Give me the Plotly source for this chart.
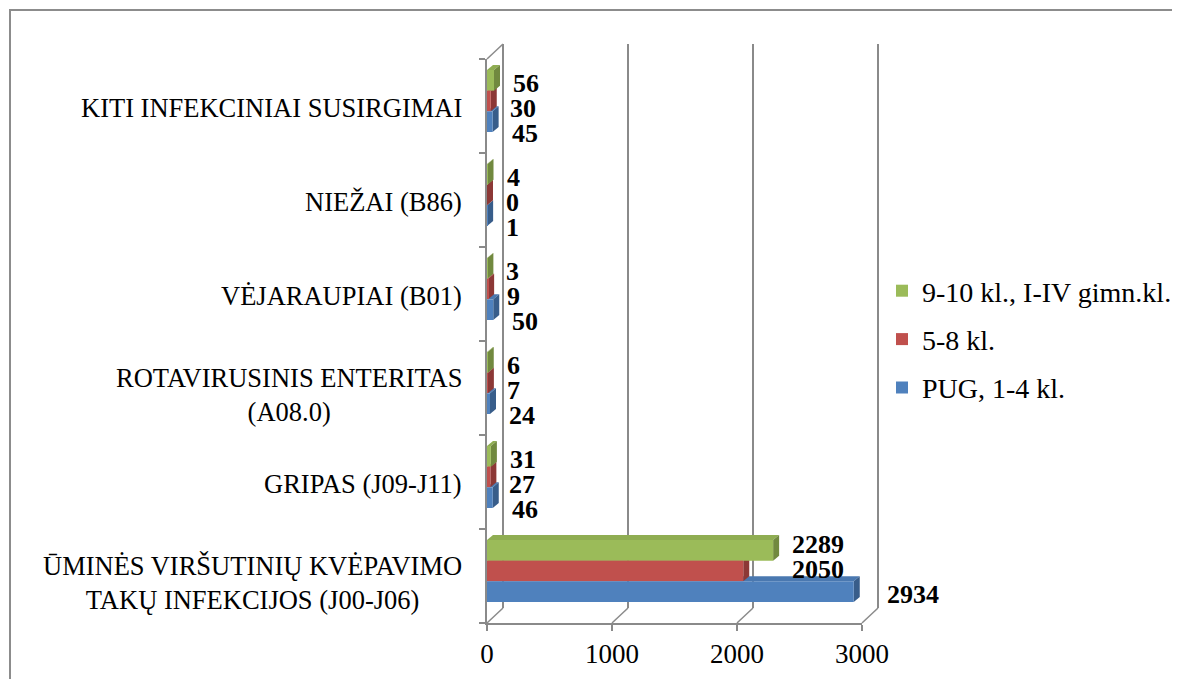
import plotly.graph_objects as go

# ---------------- data ----------------
categories = [
    "ŪMINĖS VIRŠUTINIŲ KVĖPAVIMO<br>TAKŲ INFEKCIJOS (J00-J06)",
    "GRIPAS (J09-J11)",
    "ROTAVIRUSINIS ENTERITAS<br>(A08.0)",
    "VĖJARAUPIAI (B01)",
    "NIEŽAI (B86)",
    "KITI INFEKCINIAI SUSIRGIMAI",
]
series_names = ["PUG, 1-4 kl.", "5-8 kl.", "9-10 kl., I-IV gimn.kl."]
pug_1_4 = [2934, 46, 24, 50, 1, 45]
kl_5_8 = [2050, 27, 7, 9, 0, 30]
kl_9_10 = [2289, 31, 6, 3, 4, 56]
x_ticks = [0, 1000, 2000, 3000]

series_values = [pug_1_4, kl_5_8, kl_9_10]

# ---------------- styling ----------------
front_colors = ["#4F81BD", "#C0504D", "#9BBB59"]
side_colors = ["#385D8A", "#8C3836", "#71893F"]
top_colors = ["#4A78B0", "#B04A47", "#8FAD52"]
FONT = "Liberation Serif, Times New Roman, serif"
AX = "#8A8A8A"

# the page body has an 8px margin: the figure is drawn 8px in from the corner
OFF = 8
W, H = 1180 - OFF, 687 - 2 * OFF
# reference pixel layout (page coordinates)
X0_REF, X3000_REF, TOP_REF, BOT_REF = 487, 862, 59, 623
L = X0_REF - OFF
T = TOP_REF - OFF
PW = X3000_REF - X0_REF
PH = BOT_REF - TOP_REF
R = W - L - PW
B = H - T - PH
XMAX = 3000
NCAT = len(categories)
px_per_x = PW / XMAX
px_per_y = PH / NCAT

def xp(ref_px):
    return (ref_px - X0_REF) / PW

def yp(ref_py):
    return (BOT_REF - ref_py) / PH

# bar geometry (category units)
BW = 0.22
SHIFT = 5 / px_per_y
offsets = [-1.5 * BW + SHIFT + k * BW for k in range(3)]
DXu = 6 / px_per_x
DYu = 5 / px_per_y
# data-label placement (px): downward offset per series relative to category centre
label_dy = [27, 2, -23]
# the long-bar group has its labels nudged (as the original layout does)
label_nudge = {0: {"dx": [14, 30, 0], "dy": -9}}

ypos = list(range(NCAT))

fig = go.Figure()
for k in [2, 1, 0]:
    fig.add_trace(go.Bar(
        x=series_values[k], y=ypos, orientation="h", name=series_names[k],
        marker=dict(color=front_colors[k], line=dict(width=0)),
        width=BW, offset=offsets[k], legendgroup=series_names[k],
        hoverinfo="x+name",
    ))

shapes = []
DPX, DPY = 16, 15
for v in x_ticks:
    fx = X0_REF + v * px_per_x
    shapes.append(dict(type="line", xref="paper", yref="paper",
                       x0=xp(fx + DPX), x1=xp(fx + DPX),
                       y0=yp(BOT_REF - DPY), y1=yp(TOP_REF - DPY),
                       line=dict(color=AX, width=2), layer="below"))
    shapes.append(dict(type="line", xref="paper", yref="paper",
                       x0=xp(fx), x1=xp(fx + DPX),
                       y0=yp(BOT_REF), y1=yp(BOT_REF - DPY),
                       line=dict(color=AX, width=1.5), layer="below"))
shapes.append(dict(type="line", xref="paper", yref="paper",
                   x0=xp(X0_REF), x1=xp(X0_REF + DPX), y0=yp(TOP_REF), y1=yp(TOP_REF - DPY),
                   line=dict(color=AX, width=1.5), layer="below"))

for k, vals in enumerate(series_values):
    for i, v in enumerate(vals):
        yb = ypos[i] + offsets[k]
        yt = yb + BW
        shapes.append(dict(
            type="path", xref="x", yref="y", layer="below",
            path=f"M 0,{yt} L {v},{yt} L {v + DXu},{yt + DYu} L {DXu},{yt + DYu} Z",
            fillcolor=top_colors[k], line=dict(width=0)))
        shapes.append(dict(
            type="path", xref="x", yref="y", layer="below",
            path=f"M {v},{yb} L {v},{yt} L {v + DXu},{yt + DYu} L {v + DXu},{yb + DYu} Z",
            fillcolor=side_colors[k], line=dict(width=0)))

# outer chart border
shapes.append(dict(type="rect", xref="paper", yref="paper",
                   x0=xp(10), x1=xp(1200), y0=yp(10), y1=yp(720),
                   line=dict(color="#8C8C8C", width=2), fillcolor="rgba(0,0,0,0)", layer="above"))

annotations = []
# category labels
for i, cat in enumerate(categories):
    annotations.append(dict(
        x=xp(464), xref="paper", y=ypos[i], yref="y",
        text=cat, showarrow=False, xanchor="right", yanchor="middle", align="center",
        yshift=-2 if "<br>" not in cat else -7,
        font=dict(family=FONT, size=26.5, color="black"),
    ))
# data labels
for k, vals in enumerate(series_values):
    for i, v in enumerate(vals):
        nud = label_nudge.get(i, {"dx": [0, 0, 0], "dy": 0})
        annotations.append(dict(
            x=v, xref="x", y=ypos[i], yref="y",
            text=f"<b>{v}</b>", showarrow=False, xanchor="left", yanchor="middle",
            xshift=17 + nud["dx"][k], yshift=-(label_dy[k] + nud["dy"]),
            font=dict(family=FONT, size=26, color="black"),
        ))

fig.update_layout(
    width=W, height=H, margin=dict(l=L, r=R, t=T, b=B, autoexpand=False),
    paper_bgcolor="white", plot_bgcolor="white",
    barmode="group", bargap=0.34,
    shapes=shapes, annotations=annotations,
    showlegend=True,
    legend=dict(x=xp(882), y=yp(266), xanchor="left", yanchor="top",
                traceorder="grouped", tracegroupgap=9,
                font=dict(family=FONT, size=28, color="black"),
                bgcolor="rgba(0,0,0,0)"),
    xaxis=dict(range=[0, XMAX], tickvals=x_ticks, ticktext=[str(t) for t in x_ticks],
               showgrid=False, zeroline=False, showline=True, linecolor=AX, linewidth=1.5,
               ticks="outside", ticklen=6, tickcolor=AX, tickwidth=1.5,
               tickfont=dict(family=FONT, size=27, color="black"), fixedrange=True),
    yaxis=dict(range=[-0.5, NCAT - 0.5], tickvals=[i - 0.5 for i in range(NCAT + 1)],
               showticklabels=False, showgrid=False, zeroline=False,
               showline=True, linecolor=AX, linewidth=1.5,
               ticks="outside", ticklen=6, tickcolor=AX, tickwidth=1.5, fixedrange=True),
)

fig.write_html("out.html")
